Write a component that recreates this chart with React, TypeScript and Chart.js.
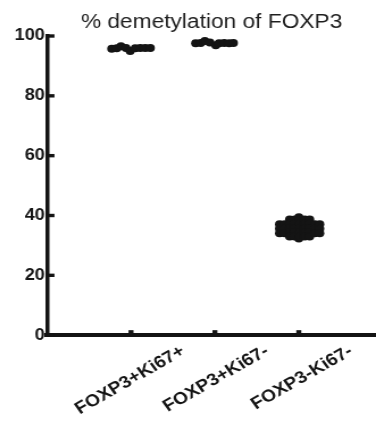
import React, { useEffect, useRef } from 'react';
import { Chart, registerables } from 'chart.js';

Chart.register(...registerables);

// ---- data ----
const categories = ['FOXP3+Ki67+', 'FOXP3+Ki67-', 'FOXP3-Ki67-'];
const yTicks = [0, 20, 40, 60, 80, 100];
const titleText = '% demetylation of FOXP3';

// values per group (% demethylation) and horizontal scatter offsets of each point
const g1Values = [95.7, 95.9, 96.6, 96.0, 95.0, 95.9, 96.0, 96.0, 96.0];
const g1Jitter = [-0.23, -0.17, -0.12, -0.06, -0.01, 0.05, 0.11, 0.17, 0.23];

const g2Values = [97.6, 97.7, 98.3, 97.8, 96.9, 97.6, 97.7, 97.6, 97.7];
const g2Jitter = [-0.23, -0.17, -0.12, -0.06, 0.01, 0.05, 0.11, 0.17, 0.22];

const g3Values = [
  37.1, 35.6, 34.1,
  37.1, 35.6, 34.1,
  38.7, 37.3, 35.8, 34.4, 33.0,
  38.7, 37.3, 35.8, 34.4, 33.0,
  39.4, 32.3,
  38.7, 37.3, 35.8, 34.4, 33.0,
  38.7, 37.3, 35.8, 34.4, 33.0,
  38.7, 37.3, 35.8, 34.4, 33.0,
  37.1, 35.6, 34.1,
  37.1, 35.6, 34.1,
];
const g3Jitter = [
  -0.23, -0.23, -0.23,
  -0.17, -0.17, -0.17,
  -0.11, -0.11, -0.11, -0.11, -0.11,
  -0.05, -0.05, -0.05, -0.05, -0.05,
  0.0, 0.0,
  0.01, 0.01, 0.01, 0.01, 0.01,
  0.07, 0.07, 0.07, 0.07, 0.07,
  0.13, 0.13, 0.13, 0.13, 0.13,
  0.19, 0.19, 0.19,
  0.25, 0.25, 0.25,
];

const groupValues = [g1Values, g2Values, g3Values];
const groupJitter = [g1Jitter, g2Jitter, g3Jitter];

// ---- styling ----
const STRETCH = 1.1358;
const INK = '#141414';
const FONT = "'Liberation Sans', Arial, sans-serif";

const inwardTicks = {
  id: 'inwardTicks',
  afterDatasetsDraw(chart: any) {
    const { ctx, chartArea, scales } = chart;
    ctx.save();
    ctx.strokeStyle = INK;
    const ys = scales.y;
    ctx.lineWidth = 3.4;
    ys.ticks.forEach((t: any) => {
      const py = ys.getPixelForValue(t.value);
      ctx.beginPath();
      ctx.moveTo(chartArea.left, py);
      ctx.lineTo(chartArea.left + 6.5, py);
      ctx.stroke();
    });
    const xs = scales.x;
    ctx.lineWidth = 4.4;
    xs.ticks.forEach((t: any) => {
      const px = xs.getPixelForValue(t.value);
      ctx.beginPath();
      ctx.moveTo(px, chartArea.bottom);
      ctx.lineTo(px, chartArea.bottom - 5);
      ctx.stroke();
    });
    ctx.restore();
  },
};

export default function App() {
  const ref = useRef<HTMLCanvasElement | null>(null);

  useEffect(() => {
    if (!ref.current) return;
    const datasets = groupValues.map((vals, gi) => ({
      label: categories[gi],
      data: vals.map((v, i) => ({ x: gi + 1 + groupJitter[gi][i], y: v })),
      backgroundColor: INK,
      borderColor: INK,
      borderWidth: 0,
      pointRadius: 4,
      pointHoverRadius: 4,
    }));

    const chart = new Chart(ref.current, {
      type: 'scatter',
      data: { datasets },
      options: {
        animation: false,
        responsive: true,
        maintainAspectRatio: false,
        layout: { padding: { left: 0, right: 0, top: 0, bottom: -2 } },
        plugins: {
          legend: { display: false },
          tooltip: { enabled: false },
          title: {
            display: true,
            text: titleText,
            fullSize: false,
            color: '#1e1e1e',
            font: { family: FONT, size: 20, weight: 'normal', lineHeight: 1.2 },
            padding: { top: 2, bottom: 2 },
          },
        },
        scales: {
          x: {
            type: 'linear',
            min: 0,
            max: 3.92,
            grid: { display: false, drawTicks: false },
            border: { display: true, color: INK, width: 4 },
            afterBuildTicks: (scale: any) => {
              scale.ticks = categories.map((_, i) => ({ value: i + 1 }));
            },
            ticks: {
              autoSkip: false,
              minRotation: 33,
              maxRotation: 33,
              labelOffset: 46,
              padding: 6,
              color: INK,
              font: { family: FONT, size: 17, weight: 'bold' },
              callback: (v: any) => categories[Math.round(Number(v)) - 1] ?? '',
            },
          },
          y: {
            type: 'linear',
            min: 0,
            max: 100,
            grid: { display: false, drawTicks: false },
            border: { display: true, color: INK, width: 3.5 },
            afterBuildTicks: (scale: any) => {
              scale.ticks = yTicks.map((v) => ({ value: v }));
            },
            ticks: {
              padding: 2,
              color: INK,
              font: { family: FONT, size: 16, weight: 'bold' },
            },
          },
        },
      },
      plugins: [inwardTicks],
    });
    return () => chart.destroy();
  }, []);

  return (
    <div
      style={{
        width: 328,
        height: 415,
        transform: `scaleX(${STRETCH})`,
        transformOrigin: '0 0',
      }}
    >
      <canvas ref={ref} />
    </div>
  );
}
